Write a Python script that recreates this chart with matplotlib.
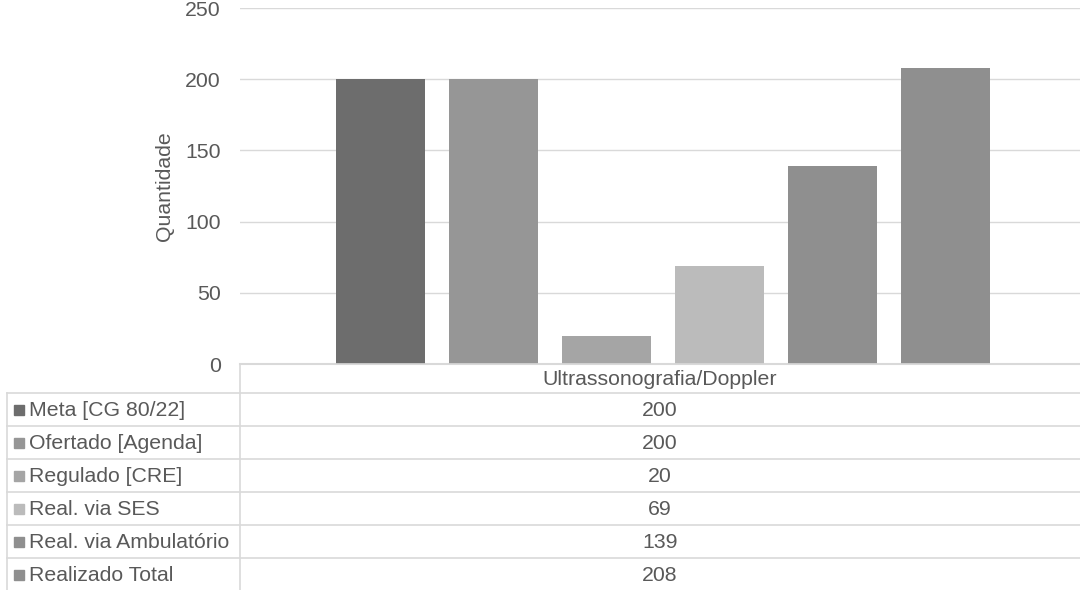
import numpy as np
import matplotlib
matplotlib.use("Agg")
import matplotlib.pyplot as plt

plt.rcParams['font.family'] = ['Liberation Sans', 'DejaVu Sans']

categoria = "Ultrassonografia/Doppler"
series = ["Meta [CG 80/22]", "Ofertado [Agenda]", "Regulado [CRE]",
          "Real. via SES", "Real. via Ambulatório", "Realizado Total"]
valores = [200, 200, 20, 69, 139, 208]
cores = ["#6d6d6d", "#969696", "#a5a5a5", "#bbbbbb", "#8f8f8f", "#8f8f8f"]

W, H = 1080, 590
fs = 15.3
txt = '#595959'
fig = plt.figure(figsize=(W / 100, H / 100), dpi=100)

# chart area (pixel positions from the reference)
x0, x1, ytop, ybot = 240, 1080, 8, 364
ax = fig.add_axes([x0 / W, 1 - ybot / H, (x1 - x0) / W, (ybot - ytop) / H])
step = 0.1345
larg = 0.106
pos = 0.5036 + (np.arange(len(valores)) - (len(valores) - 1) / 2) * step
ax.bar(pos, valores, width=larg, color=cores, zorder=3)
ax.set_xlim(0, 1)
ax.set_ylim(0, 250)
ax.set_yticks(np.arange(0, 251, 50))
ax.set_xticks([])
ax.grid(axis='y', color='#d9d9d9', lw=1, zorder=0)
for s in ['top', 'right', 'left']:
    ax.spines[s].set_visible(False)
ax.spines['bottom'].set_color('#d9d9d9')
ax.spines['bottom'].set_linewidth(1.5)
ax.tick_params(axis='y', length=0, pad=14, labelsize=fs, labelcolor=txt)
ax.set_ylabel("Quantidade", fontsize=fs, color=txt, labelpad=8)

# data table below the chart
tb = fig.add_axes([0, 0, 1, 1])
tb.set_xlim(0, W)
tb.set_ylim(H, 0)
tb.axis('off')
lc = '#d9d9d9'
row_h = 33
y_head = 364
y_rows = 393
tb.plot([x0, x0], [y_head, H], color=lc, lw=1.2)
tb.plot([x0, x1], [y_head, y_head], color=lc, lw=1.2)
tb.plot([7, 7], [y_rows, H], color=lc, lw=1.2)
tb.text((x0 + x1) / 2, (y_head + y_rows) / 2 + 1, categoria, ha='center', va='center',
        fontsize=fs, color=txt)
for i, (nome, v, c) in enumerate(zip(series, valores, cores)):
    yt = y_rows + i * row_h
    tb.plot([7, x1], [yt, yt], color=lc, lw=1.2)
    yc = yt + row_h / 2
    tb.add_patch(plt.Rectangle((14, yc - 5), 10, 10, color=c))
    tb.text(29, yc + 1, nome, ha='left', va='center', fontsize=fs, color=txt)
    tb.text((x0 + x1) / 2, yc + 1, str(v), ha='center', va='center', fontsize=fs, color=txt)

fig.savefig("out.png", dpi=100)
